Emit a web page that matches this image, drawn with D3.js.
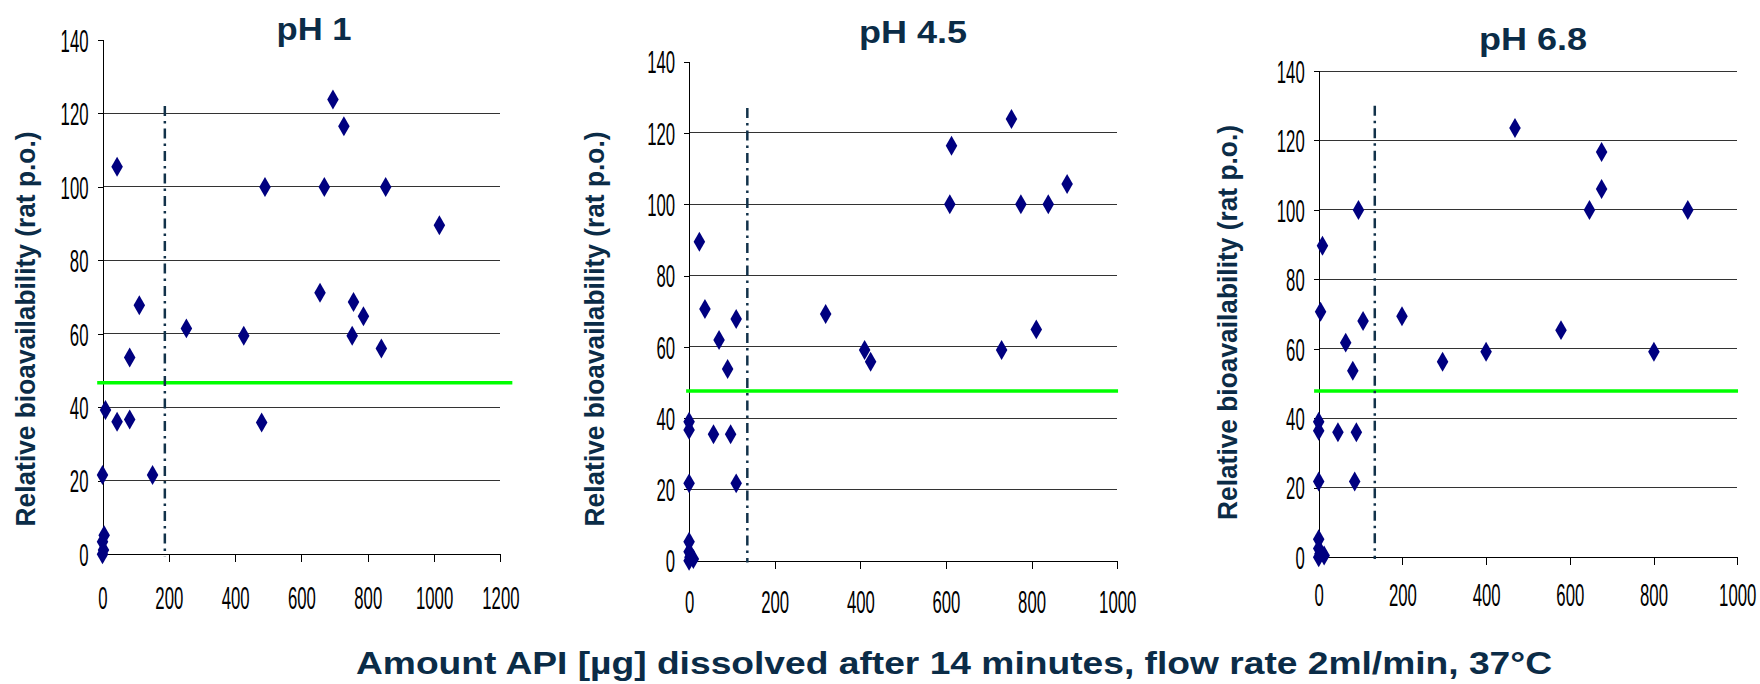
<!DOCTYPE html>
<html><head><meta charset="utf-8">
<script src="https://cdn.jsdelivr.net/npm/d3@7"></script>
<style>body{margin:0;background:#fff}svg{display:block}</style>
</head><body>
<svg id="c" width="1760" height="684"></svg>
<script>
// ---------- data ----------
const panelTitles = ["pH 1", "pH 4.5", "pH 6.8"];
const yTicks = [0, 20, 40, 60, 80, 100, 120, 140];
const xTicksPh1 = [0, 200, 400, 600, 800, 1000, 1200];
const xTicksPh45 = [0, 200, 400, 600, 800, 1000];
const xTicksPh68 = [0, 200, 400, 600, 800, 1000];

const ph1X = [0, 3, 0, 5, 0, 9, 44, 82, 151, 82, 111, 44, 253, 426, 480, 490, 656, 669, 695, 728, 753, 757, 787, 841, 854, 1016];
const ph1Y = [0, 1.2, 3.4, 5.2, 21.6, 39.3, 36.1, 36.7, 21.6, 53.6, 67.8, 105.5, 61.5, 59.5, 35.9, 100, 71.2, 100, 123.8, 116.5, 59.5, 68.7, 64.8, 56, 100, 89.6];

const ph45X = [0, 10, 2, 0, 0, 0, 0, 0, 57, 97, 110, 24, 37, 70, 90, 110, 319, 410, 424, 609, 613, 730, 753, 775, 811, 839, 883];
const ph45Y = [0, 0.5, 1, 2.5, 5.3, 21.7, 36.7, 39, 35.5, 35.5, 21.7, 89.5, 70.6, 61.9, 53.8, 67.8, 69.2, 59.1, 55.8, 100, 116.4, 59.1, 123.9, 100, 64.9, 100, 105.7];

const ph68X = [0, 13, 3, 0, 0, 0, 0, 0, 46, 90, 86, 9, 4.5, 64.5, 81.5, 95, 106, 199, 296, 400, 469, 579, 647, 676, 676, 801, 882];
const ph68Y = [0, 0.5, 1, 2.5, 5.2, 21.8, 36.4, 39, 36, 36, 21.8, 89.7, 70.7, 61.8, 53.7, 100, 68, 69.4, 56.3, 59.2, 123.6, 65.4, 100, 116.7, 106, 59.2, 100];

const thresholdX = [188, 136, 134];      // dash-dot vertical line
const thresholdTop = [122, 127, 130];
const refLevel = [46.7, 47.6, 47.9];     // green horizontal line
const refFrom = [-16, -7, -11];
const refTo = [1236, 1002, 1002];

const yLabel = "Relative bioavailability (rat p.o.)";
const xLabel = "Amount API [µg] dissolved after 14 minutes, flow rate 2ml/min, 37°C";

// ---------- layout ----------
const navy = "#0b2c47";
const panels = [
  {xs: ph1X, ys: ph1Y, ticks: xTicksPh1, x0: 102.5, x1: 500.4, y0: 554.3, y1: 40, grid140: false,
   tX: 314, tY: 40, tW: 75, lX: 34.6, lY: 329, xOff: 34},
  {xs: ph45X, ys: ph45Y, ticks: xTicksPh45, x0: 689.1, x1: 1117.2, y0: 560.7, y1: 61.7, grid140: false,
   tX: 913, tY: 43.3, tW: 108, lX: 603.7, lY: 329, xOff: 31},
  {xs: ph68X, ys: ph68Y, ticks: xTicksPh68, x0: 1318.7, x1: 1737.2, y0: 557.3, y1: 71, grid140: true,
   tX: 1533, tY: 50, tW: 108, lX: 1237.3, lY: 322.5, xOff: 27.7}
];

const svg = d3.select("#c");
const SX = 0.54; // narrow tick font

panels.forEach((p, i) => {
  const xDom = [p.ticks[0], p.ticks[p.ticks.length - 1]];
  const x = d3.scaleLinear().domain(xDom).range([p.x0, p.x1]);
  const y = d3.scaleLinear().domain([0, 140]).range([p.y0, p.y1]);
  const g = svg.append("g");

  // gridlines
  const gridVals = yTicks.filter(v => v > 0 && (v < 140 || p.grid140));
  g.append("g").selectAll("line").data(gridVals).join("line")
    .attr("x1", x(xDom[0])).attr("x2", x(xDom[1]))
    .attr("y1", d => y(d)).attr("y2", d => y(d))
    .attr("stroke", "#333").attr("stroke-width", 1).attr("shape-rendering", "crispEdges");

  // y axis
  const ya = g.append("g").attr("transform", `translate(${p.x0},0)`)
    .call(d3.axisLeft(y).tickValues(yTicks).tickSize(5).tickFormat(d3.format("d")));
  ya.select(".domain").attr("stroke", "#000").attr("shape-rendering", "crispEdges");
  ya.selectAll(".tick line").attr("stroke", "#000").attr("shape-rendering", "crispEdges");
  ya.selectAll(".tick text")
    .attr("x", null).attr("dy", "0.36em")
    .attr("transform", `translate(-14,0) scale(${SX},1)`)
    .attr("font-family", "'Liberation Sans', Arial, sans-serif").attr("font-size", 31)
    .attr("fill", "#000").attr("text-anchor", "end");

  // x axis
  const xa = g.append("g").attr("transform", `translate(0,${p.y0})`)
    .call(d3.axisBottom(x).tickValues(p.ticks).tickSize(8).tickSizeOuter(0).tickFormat(d3.format("d")));
  xa.select(".domain").attr("stroke", "#000").attr("shape-rendering", "crispEdges");
  xa.selectAll(".tick line").attr("stroke", "#000").attr("shape-rendering", "crispEdges");
  xa.selectAll(".tick text")
    .attr("y", null).attr("dy", "0.71em")
    .attr("transform", `translate(0,${p.xOff - 1}) scale(${SX},1)`)
    .attr("font-family", "'Liberation Sans', Arial, sans-serif").attr("font-size", 31)
    .attr("fill", "#000").attr("text-anchor", "middle");

  // green reference line
  g.append("line")
    .attr("x1", x(refFrom[i])).attr("x2", x(refTo[i]))
    .attr("y1", y(refLevel[i])).attr("y2", y(refLevel[i]))
    .attr("stroke", "#00ff00").attr("stroke-width", 3.5);

  // dash-dot threshold line
  g.append("line")
    .attr("x1", x(thresholdX[i])).attr("x2", x(thresholdX[i]))
    .attr("y1", y(thresholdTop[i])).attr("y2", y(-0.5))
    .attr("stroke", "#12324a").attr("stroke-width", 2.5)
    .attr("stroke-dasharray", "10,5,2.5,5");

  // diamonds
  const sym = d3.symbol().type(d3.symbolDiamond).size(115);
  g.append("g").selectAll("path").data(p.xs.map((v, k) => [v, p.ys[k]])).join("path")
    .attr("d", sym)
    .attr("transform", d => `translate(${x(d[0])},${y(d[1])})`)
    .attr("fill", "#000080");

  // title
  g.append("text")
    .attr("x", p.tX).attr("y", p.tY)
    .attr("text-anchor", "middle")
    .attr("font-family", "'Liberation Sans', Arial, sans-serif").attr("font-weight", "bold")
    .attr("font-size", 32).attr("fill", navy)
    .attr("textLength", p.tW).attr("lengthAdjust", "spacingAndGlyphs")
    .text(panelTitles[i]);

  // y label
  g.append("text")
    .attr("transform", `translate(${p.lX},${p.lY}) rotate(-90)`)
    .attr("text-anchor", "middle")
    .attr("font-family", "'Liberation Sans', Arial, sans-serif").attr("font-weight", "bold")
    .attr("font-size", 27.5).attr("fill", navy)
    .attr("textLength", 395).attr("lengthAdjust", "spacingAndGlyphs")
    .text(yLabel);
});

// bottom x label
svg.append("text")
  .attr("x", 954).attr("y", 674)
  .attr("text-anchor", "middle")
  .attr("font-family", "'Liberation Sans', Arial, sans-serif").attr("font-weight", "bold")
  .attr("font-size", 32).attr("fill", navy)
  .attr("textLength", 1196).attr("lengthAdjust", "spacingAndGlyphs")
  .text(xLabel);
</script>
</body></html>
